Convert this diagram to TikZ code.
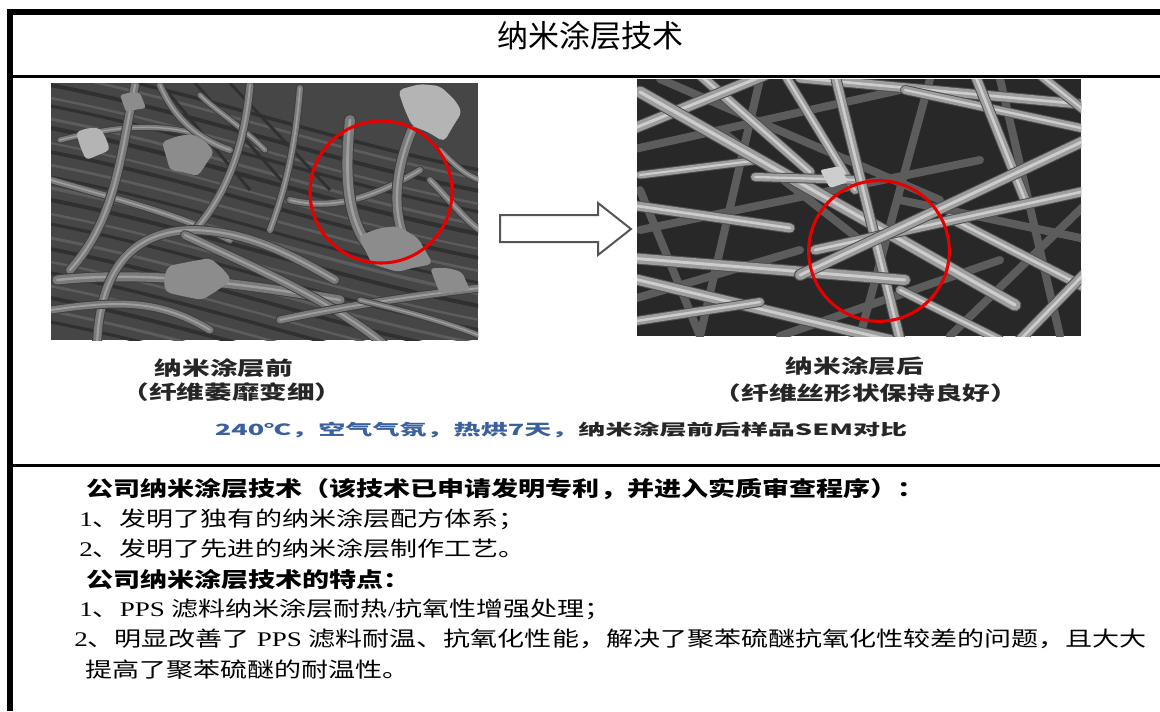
\documentclass[tikz,border=0pt]{standalone}
\usepackage{fontspec}
\setmainfont{Liberation Serif}
\newfontfamily\cjk{Noto Sans CJK SC}
\newcommand\zh[1]{{\cjk #1}}
\definecolor{capblue}{RGB}{58,96,158}
\definecolor{capgray}{RGB}{38,38,38}
\definecolor{arrowgray}{RGB}{85,85,85}
\definecolor{semred}{RGB}{232,0,0}
\definecolor{lbg}{RGB}{70,70,70}
\definecolor{lstrD}{RGB}{48,48,48}
\definecolor{lstrL}{RGB}{92,92,92}
\definecolor{lfe}{RGB}{62,62,62}
\definecolor{lfb}{RGB}{122,122,122}
\definecolor{lfh}{RGB}{158,158,158}
\definecolor{lflake}{RGB}{140,140,140}
\definecolor{lflakeL}{RGB}{180,180,180}
\definecolor{rbg}{RGB}{40,40,40}
\definecolor{rbf}{RGB}{92,92,92}
\definecolor{rfe}{RGB}{78,78,78}
\definecolor{rfb}{RGB}{158,158,158}
\definecolor{rfh}{RGB}{205,205,205}
\newcommand\lfib[2]{%
  \draw[line cap=round,line join=round,draw=lfe,line width={#1*0.75pt+1.5pt}] #2;
  \draw[line cap=round,line join=round,draw=lfb,line width={#1*0.75pt}] #2;
  \draw[line cap=round,line join=round,draw=lfh,line width={#1*0.2pt}] #2;}
\newcommand\rfib[2]{%
  \draw[line cap=round,draw=rfe,line width={#1*0.75pt+1.5pt}] #2;
  \draw[line cap=round,draw=rfb,line width={#1*0.75pt}] #2;
  \draw[line cap=round,draw=rfh,line width={#1*0.22pt}] #2;}
\tikzset{
  tline/.style={draw=black},
  titletext/.style={inner sep=0pt,font=\cjk\fontsize{23.25pt}{28pt}\selectfont},
  bodytext/.style={anchor=base west,inner sep=0pt,font=\fontsize{15.6pt}{18pt}\selectfont},
  captext/.style={inner sep=0pt,text=capgray,font=\cjk\bfseries\fontsize{14.5pt}{17pt}\selectfont},
  bluetext/.style={inner sep=0pt,text=capgray,font=\cjk\bfseries\fontsize{11.6pt}{14pt}\selectfont},
  bigarrow/.style={draw=arrowgray,line width=1.5pt,fill=white,line join=miter},
  redring/.style={draw=semred,line width=2.3pt},
}
\begin{document}
\begin{tikzpicture}[x=0.75pt,y=-0.75pt]
\useasboundingbox (0,0) rectangle (1160,711);
\fill[white] (0,0) rectangle (1160,711);

% ---------- left SEM picture ----------
\begin{scope}
\clip (51,83) rectangle (478,340);
\fill[lbg] (51,83) rectangle (478,340);
\foreach \s/\w/\c in {62/2.6/lstrD, 71/2.0/lstrL, 83/3.0/lstrD, 96/1.8/lstrL, 104/2.4/lstrD,
  117/2.2/lstrL, 126/3.2/lstrD, 141/1.6/lstrL, 150/2.8/lstrD, 163/2.0/lstrL, 175/2.2/lstrD,
  186/2.6/lstrL, 198/3.0/lstrD, 212/1.8/lstrL, 222/2.4/lstrD, 236/2.2/lstrL, 247/2.8/lstrD,
  260/1.8/lstrL, 271/2.6/lstrD, 284/2.0/lstrL, 296/3.0/lstrD, 309/2.2/lstrL, 320/2.4/lstrD} {
  \draw[\c,line width=\w pt] (40,\s) .. controls (200,{\s+30}) and (330,{\s+80}) .. (490,{\s+110});
}
\foreach \a/\b in {160/250, 195/290, 230/330} {
  \draw[lstrD,line width=2.2pt] (\a,83) -- (\b,190);
}
\lfib{5}{(60,140) .. controls (100,130) and (150,120) .. (200,135)}
\lfib{6}{(51,180) .. controls (120,200) and (180,215) .. (230,240)}
\lfib{6}{(160,85) .. controls (175,120) and (200,140) .. (230,150)}
\lfib{6}{(300,88) .. controls (295,150) and (285,190) .. (270,230)}
\lfib{6}{(290,200) .. controls (330,210) and (370,200) .. (420,170)}
\lfib{6}{(430,180) .. controls (450,200) and (465,220) .. (480,230)}
\lfib{5}{(200,95) .. controls (215,110) and (240,125) .. (265,150)}
\lfib{5}{(440,150) .. controls (455,165) and (465,175) .. (480,180)}
\lfib{8}{(135,85) .. controls (120,160) and (115,220) .. (70,270)}
\lfib{7}{(250,85) .. controls (245,140) and (230,190) .. (195,230)}
\lfib{9}{(57,280) .. controls (150,270) and (250,285) .. (340,300)}
\lfib{8}{(97,345) .. controls (100,260) and (140,232) .. (190,230) .. controls (250,230) and (300,260) .. (335,280)}
\lfib{8}{(185,235) .. controls (260,270) and (330,300) .. (385,345)}
\lfib{7}{(280,320) .. controls (350,305) and (420,295) .. (480,288)}
\lfib{7}{(51,310) .. controls (120,300) and (160,300) .. (210,330)}
\lfib{5}{(360,300) .. controls (400,310) and (440,320) .. (478,335)}
\lfib{10}{(350,120) .. controls (345,170) and (345,220) .. (372,250)}
\lfib{9}{(412,130) .. controls (395,170) and (392,210) .. (405,240)}
\fill[lflake,rounded corners=4pt] (358,236) -- (380,228) -- (398,226) -- (418,238) -- (425,250) -- (433,264) -- (412,268) -- (398,272) -- (372,264) -- cycle;
\fill[lflakeL,rounded corners=4pt] (398,90) -- (420,84) -- (440,86) -- (455,100) -- (462,112) -- (452,128) -- (444,142) -- (428,132) -- (412,126) -- (404,108) -- cycle;
\fill[lflake,rounded corners=3pt] (162,142) -- (178,136) -- (192,134) -- (206,142) -- (214,152) -- (206,164) -- (198,176) -- (182,172) -- (170,170) -- (166,156) -- cycle;
\fill[lflakeL,rounded corners=3pt] (76,132) -- (88,128) -- (100,128) -- (106,138) -- (110,150) -- (96,156) -- (86,160) -- (80,146) -- cycle;
\fill[lflake,rounded corners=4pt] (168,266) -- (188,262) -- (210,258) -- (222,268) -- (232,280) -- (218,290) -- (202,300) -- (182,296) -- (165,292) -- (164,278) -- cycle;
\fill[lflake,rounded corners=2pt] (120,95) -- (132,92) -- (140,93) -- (146,108) -- (134,110) -- (126,112) -- cycle;
\fill[lflake,rounded corners=3pt] (430,268) -- (448,268) -- (462,272) -- (470,290) -- (455,292) -- (440,294) -- cycle;
\end{scope}

% ---------- right SEM picture ----------
\begin{scope}
\clip (637,79) rectangle (1081,336);
\fill[rbg] (637,79) rectangle (1081,336);
\foreach \a/\b/\c/\d in {630/150/900/90, 640/230/980/160, 700/336/760/79, 860/336/930/79,
  950/336/1090/200, 630/300/800/250, 900/200/1090/240, 720/130/860/240, 1000/79/1060/336,
  640/190/700/336, 780/336/1000/260, 660/79/940/200} {
  \draw[rbf,line width=6pt,line cap=round] (\a,\b) -- (\c,\d);
}
\rfib{9}{(700,75) -- (810,172)}
\rfib{8}{(785,75) -- (855,190)}
\rfib{9}{(800,78) -- (1090,105)}
\rfib{8}{(905,90) -- (1090,130)}
\rfib{8}{(1040,75) -- (1090,115)}
\rfib{9}{(975,75) -- (1025,200)}
\rfib{10}{(630,130) -- (765,75)}
\rfib{7}{(640,175) -- (760,160)}
\rfib{9}{(630,205) -- (790,228)}
\rfib{11}{(640,92) -- (1015,305)}
\rfib{8}{(755,177) -- (860,180)}
\rfib{9}{(835,75) -- (900,340)}
\rfib{10}{(630,258) -- (905,280)}
\rfib{10}{(630,278) -- (890,340)}
\rfib{8}{(630,322) -- (760,302)}
\rfib{9}{(950,218) -- (1090,290)}
\rfib{8}{(900,290) -- (1000,340)}
\rfib{9}{(1015,345) -- (1090,268)}
\rfib{9}{(815,250) -- (1090,190)}
\rfib{10}{(800,275) -- (1090,138)}
\fill[rfh,rounded corners=2pt] (820,170) -- (840,166) -- (848,182) -- (830,188) -- cycle;
\end{scope}

% ---------- red rings and arrow ----------
\draw[redring] (381,192) circle[radius=53.25pt];
\draw[redring] (879,251) circle[radius=52.75pt];
\draw[bigarrow] (500,215) -- (598,215) -- (598,203) -- (631,229) -- (598,255) -- (598,242) -- (500,242) -- cycle;

% ---------- table rules ----------
\draw[tline,line width=4.3pt] (7,12.2) -- (1160,12.2);
\draw[tline,line width=4.5pt] (10,9.3) -- (10,711);
\draw[tline,line width=1.8pt] (10,76.5) -- (1160,76.5);
\draw[tline,line width=1.8pt] (10,465.5) -- (1160,465.5);

% ---------- texts ----------
\node[titletext] (title) at (590,36) {纳米涂层技术};

\node[captext] (capA1) at (224,368) {\scalebox{1.43}[1]{纳米涂层前}};
\node[captext] (capA2) at (232,392) {\scalebox{1.43}[1]{（纤维萎靡变细）}};
\node[captext] (capB1) at (855,366) {\scalebox{1.43}[1]{纳米涂层后}};
\node[captext] (capB2) at (866,393) {\scalebox{1.43}[1]{（纤维丝形状保持良好）}};
\node[bluetext] (capC) at (561,430) {\scalebox{1.75}[1]{\textcolor{capblue}{240℃，空气气氛，热烘7天，}纳米涂层前后样品SEM对比}};

\node[bodytext] (l1) at (86,496) {\scalebox{1.3}[1]{\zh{\bfseries 公司纳米涂层技术（该技术已申请发明专利，并进入实质审查程序）：}}};
\node[bodytext] (l2) at (79,526) {\scalebox{1.3}[1]{1\zh{、发明了独有的纳米涂层配方体系；}}};
\node[bodytext] (l3) at (79,556) {\scalebox{1.3}[1]{2\zh{、发明了先进的纳米涂层制作工艺。}}};
\node[bodytext] (l4) at (86,587) {\scalebox{1.3}[1]{\zh{\bfseries 公司纳米涂层技术的特点：}}};
\node[bodytext] (l5) at (79,616) {\scalebox{1.3}[1]{1\zh{、}PPS \zh{滤料纳米涂层耐热}/\zh{抗氧性增强处理；}}};
\node[bodytext] (l6) at (74,646) {\scalebox{1.3}[1]{2\zh{、明显改善了} PPS \zh{滤料耐温、抗氧化性能，解决了聚苯硫醚抗氧化性较差的问题，且大大}}};
\node[bodytext] (l7) at (85,677) {\scalebox{1.3}[1]{\zh{提高了聚苯硫醚的耐温性。}}};
\end{tikzpicture}
\end{document}
